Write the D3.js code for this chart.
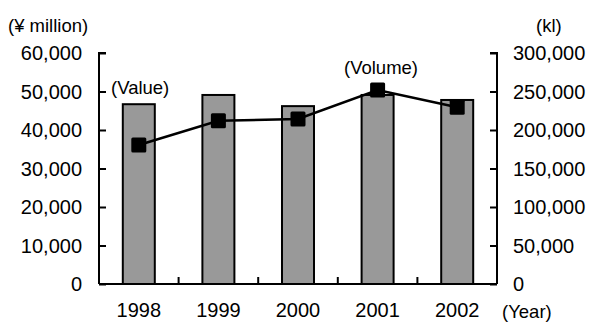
<!DOCTYPE html>
<html>
<head>
<meta charset="utf-8">
<script src="https://cdn.jsdelivr.net/npm/d3@7"></script>
<style>
  html, body { margin: 0; padding: 0; background: #fff; }
  svg { display: block; font-family: "Liberation Sans", Arial, sans-serif; }
</style>
</head>
<body>
<svg id="chart" width="592" height="322"></svg>
<script>
// Sales value (bars, left axis) and volume (line, right axis) by year
const years = ["1998", "1999", "2000", "2001", "2002"];
const valueMillionYen = [46700, 49100, 46200, 49100, 47800];
const volumeKl = [180500, 212000, 214300, 252000, 229500];
const leftTicks = [0, 10000, 20000, 30000, 40000, 50000, 60000];
const rightTicks = [0, 50000, 100000, 150000, 200000, 250000, 300000];

const svg = d3.select("#chart");
const plot = { left: 99, right: 497, top: 53, bottom: 284 };

const x = d3.scaleBand().domain(years).range([plot.left, plot.right]);
const yL = d3.scaleLinear().domain([0, 60000]).range([plot.bottom, plot.top]);
const yR = d3.scaleLinear().domain([0, 300000]).range([plot.bottom, plot.top]);
const fmt = d3.format(",");
const barW = 32;
const tickFont = 20;
const labelFont = 18.5;

// bars
svg.append("g").selectAll("rect")
  .data(years)
  .join("rect")
  .attr("x", (d) => x(d) + x.bandwidth() / 2 - barW / 2)
  .attr("y", (d, i) => yL(valueMillionYen[i]))
  .attr("width", barW)
  .attr("height", (d, i) => plot.bottom - yL(valueMillionYen[i]))
  .attr("fill", "#999999")
  .attr("stroke", "#000")
  .attr("stroke-width", 2);

// left axis
const axL = svg.append("g")
  .attr("transform", `translate(${plot.left},0)`)
  .call(d3.axisRight(yL).tickValues(leftTicks).tickSize(7).tickFormat(""));
axL.select(".domain").attr("stroke-width", 2).attr("d", `M7,${plot.top}H0V${plot.bottom}`);
axL.selectAll(".tick line").attr("stroke-width", 2);

svg.append("g").selectAll("text")
  .data(leftTicks)
  .join("text")
  .attr("x", 82)
  .attr("y", (d) => yL(d))
  .attr("dy", "0.36em")
  .attr("text-anchor", "end")
  .attr("font-size", tickFont)
  .text((d) => fmt(d));

// right axis
const axR = svg.append("g")
  .attr("transform", `translate(${plot.right},0)`)
  .call(d3.axisLeft(yR).tickValues(rightTicks).tickSize(7).tickFormat(""));
axR.select(".domain").attr("stroke-width", 2).attr("d", `M-7,${plot.top}H0V${plot.bottom}`);
axR.selectAll(".tick line").attr("stroke-width", 2);

svg.append("g").selectAll("text")
  .data(rightTicks)
  .join("text")
  .attr("x", 513)
  .attr("y", (d) => yR(d))
  .attr("dy", "0.36em")
  .attr("text-anchor", "start")
  .attr("font-size", tickFont)
  .text((d) => fmt(d));

// bottom axis with category separators pointing up
const boundaries = years.slice(1).map((d) => x(d));
svg.append("line")
  .attr("x1", plot.left).attr("x2", plot.right)
  .attr("y1", plot.bottom).attr("y2", plot.bottom)
  .attr("stroke", "#000").attr("stroke-width", 2);
svg.append("g").selectAll("line")
  .data(boundaries)
  .join("line")
  .attr("x1", (d) => d).attr("x2", (d) => d)
  .attr("y1", plot.bottom).attr("y2", plot.bottom - 7)
  .attr("stroke", "#000").attr("stroke-width", 2);

svg.append("g").selectAll("text")
  .data(years)
  .join("text")
  .attr("x", (d) => x(d) + x.bandwidth() / 2)
  .attr("y", 317)
  .attr("text-anchor", "middle")
  .attr("font-size", tickFont)
  .text((d) => d);

// volume line with square markers
const line = d3.line()
  .x((d, i) => x(years[i]) + x.bandwidth() / 2)
  .y((d) => yR(d));
svg.append("path")
  .datum(volumeKl)
  .attr("d", line)
  .attr("fill", "none")
  .attr("stroke", "#000")
  .attr("stroke-width", 2.5);
const mk = 15;
svg.append("g").selectAll("rect")
  .data(volumeKl)
  .join("rect")
  .attr("x", (d, i) => x(years[i]) + x.bandwidth() / 2 - mk / 2)
  .attr("y", (d) => yR(d) - mk / 2)
  .attr("width", mk)
  .attr("height", mk)
  .attr("rx", 1.5)
  .attr("fill", "#000");

// unit and series labels
const labels = [
  { t: "(¥ million)", x: 8, y: 25, a: "start" },
  { t: "(kl)", x: 536, y: 25, a: "start" },
  { t: "(Value)", x: 111, y: 87, a: "start" },
  { t: "(Volume)", x: 381, y: 67, a: "middle" },
  { t: "(Year)", x: 502, y: 311, a: "start" }
];
svg.append("g").selectAll("text")
  .data(labels)
  .join("text")
  .attr("x", (d) => d.x)
  .attr("y", (d) => d.y)
  .attr("dy", "0.36em")
  .attr("text-anchor", (d) => d.a)
  .attr("font-size", labelFont)
  .text((d) => d.t);
</script>
</body>
</html>
